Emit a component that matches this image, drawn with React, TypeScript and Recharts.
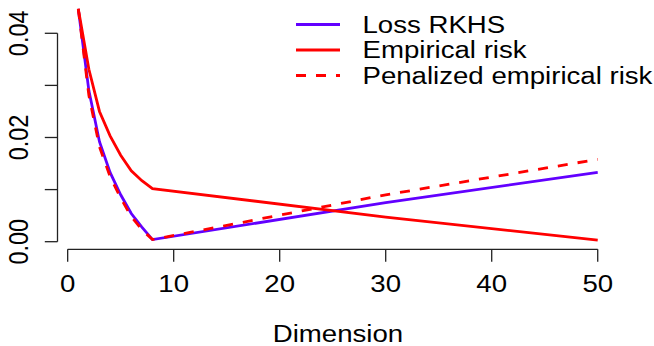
import React from 'react';
import { LineChart, Line, XAxis, YAxis, ReferenceLine, Legend } from 'recharts';

const dims = [1, 2, 3, 4, 5, 6, 7, 8, 30, 50];
const lossRKHS = [0.0447, 0.0290, 0.0192, 0.0133, 0.0090, 0.0054, 0.0028, 0.0004, 0.0075, 0.0133];
const empiricalRisk = [0.0447, 0.0331, 0.0250, 0.0203, 0.0166, 0.0136, 0.0117, 0.0102, 0.0047, 0.0003];
const penalizedRisk = [0.0447, 0.0281, 0.0182, 0.0125, 0.0084, 0.0048, 0.0023, 0.0004, 0.0090, 0.0158];

const xTicks = [0, 10, 20, 30, 40, 50];
const yTicks = [0, 0.01, 0.02, 0.03, 0.04];
const yTickLabels = ['0.00', '', '0.02', '', '0.04'];

const seriesNames = ['Loss RKHS', 'Empirical risk', 'Penalized empirical risk'];
const seriesColors = ['#6200ff', '#ff0000', '#ff0000'];
const seriesDash = ['', '', '10 10'];

const data = dims.map((d, i) => ({
  dim: d,
  loss: lossRKHS[i],
  emp: empiricalRisk[i],
  pen: penalizedRisk[i],
}));

const FONT = '"Liberation Sans", Arimo, Arial, sans-serif';
const SX = 1.175;
const FS = 23.5;
const AXIS = '#222';

const XDOMAIN: [number, number] = [-0.96, 51.96];
const YDOMAIN: [number, number] = [-0.00146, 0.04639];

function XTick(props: any) {
  const { x, y, payload } = props;
  return (
    <text
      transform={`translate(${x},${y + 28}) scale(${SX},1)`}
      textAnchor="middle"
      fontFamily={FONT}
      fontSize={FS}
      fill="#000"
    >
      {String(payload.value)}
    </text>
  );
}

function YTick(props: any) {
  const { x, y, payload } = props;
  const idx = yTicks.indexOf(payload.value);
  const label = idx >= 0 ? yTickLabels[idx] : '';
  if (!label) return <g />;
  return (
    <text
      transform={`translate(${x - 14.5},${y}) scale(${SX},1) rotate(-90)`}
      textAnchor="middle"
      fontFamily={FONT}
      fontSize={FS}
      fill="#000"
    >
      {label}
    </text>
  );
}

function DimLabel(props: any) {
  const vb = props.viewBox || {};
  const cx = vb.x + vb.width / 2;
  const by = vb.y + vb.height - 4.5;
  return (
    <text
      transform={`translate(${cx},${by}) scale(${SX},1)`}
      textAnchor="middle"
      fontFamily={FONT}
      fontSize={FS}
      fill="#000"
    >
      Dimension
    </text>
  );
}

function LegendBox() {
  return (
    <svg width={364} height={92} style={{ display: 'block', overflow: 'visible' }}>
      {seriesNames.map((name, i) => {
        const ly = 24.5 + 25.5 * i;
        return (
          <g key={name}>
            <line
              x1={6}
              x2={50}
              y1={ly}
              y2={ly}
              stroke={seriesColors[i]}
              strokeWidth={2.8}
              strokeDasharray={seriesDash[i] || undefined}
            />
            <text
              transform={`translate(72.5,${ly + 8.3}) scale(${SX},1)`}
              fontFamily={FONT}
              fontSize={FS}
              fill="#000"
            >
              {name}
            </text>
          </g>
        );
      })}
    </svg>
  );
}

export default function App() {
  return (
    <div style={{ position: 'absolute', left: 0, top: 0, width: 654, height: 346, background: '#fff' }}>
      <LineChart
        width={654}
        height={346}
        data={data}
        margin={{ top: 0, right: 35.5, left: 0, bottom: 0 }}
      >
        <XAxis
          dataKey="dim"
          type="number"
          domain={XDOMAIN}
          ticks={xTicks}
          interval={0}
          allowDataOverflow
          axisLine={false}
          tickLine={{ stroke: AXIS, strokeWidth: 1.3 }}
          tickSize={12.4}
          height={96.7}
          tick={(p: any) => <XTick {...p} />}
          label={<DimLabel />}
        />
        <YAxis
          type="number"
          domain={YDOMAIN}
          ticks={yTicks}
          interval={0}
          allowDataOverflow
          axisLine={false}
          tickLine={{ stroke: AXIS, strokeWidth: 1.3 }}
          tickSize={12.7}
          width={57.5}
          tick={(p: any) => <YTick {...p} />}
        />
        <ReferenceLine
          segment={[{ x: xTicks[0], y: YDOMAIN[0] }, { x: xTicks[xTicks.length - 1], y: YDOMAIN[0] }]}
          stroke={AXIS}
          strokeWidth={1.3}
          ifOverflow="visible"
        />
        <ReferenceLine
          segment={[{ x: XDOMAIN[0], y: yTicks[0] }, { x: XDOMAIN[0], y: yTicks[yTicks.length - 1] }]}
          stroke={AXIS}
          strokeWidth={1.3}
          ifOverflow="visible"
        />
        <Line type="linear" dataKey="loss" name={seriesNames[0]} stroke={seriesColors[0]} strokeWidth={2.8} dot={false} isAnimationActive={false} />
        <Line type="linear" dataKey="emp" name={seriesNames[1]} stroke={seriesColors[1]} strokeWidth={2.8} dot={false} isAnimationActive={false} />
        <Line type="linear" dataKey="pen" name={seriesNames[2]} stroke={seriesColors[2]} strokeWidth={2.8} strokeDasharray={seriesDash[2]} dot={false} isAnimationActive={false} />
        <Legend
          layout="horizontal"
          verticalAlign="middle"
          align="center"
          content={() => <LegendBox />}
          wrapperStyle={{ position: 'absolute', left: 290, top: 0, width: 364, height: 92 }}
        />
      </LineChart>
    </div>
  );
}
